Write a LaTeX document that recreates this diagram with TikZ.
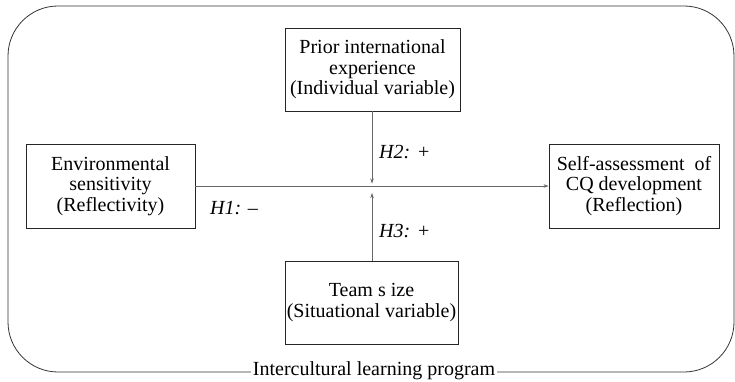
\documentclass[tikz,border=0pt]{standalone}
\usepackage{fontspec}
\setmainfont{Liberation Serif}
\usetikzlibrary{arrows.meta}
\begin{document}
\begin{tikzpicture}[x=1pt,y=-1pt,
  box/.style={draw=black!85,line width=0.9pt,minimum width=#1,align=center,inner sep=0pt,
    font=\fontsize{20}{20.6}\selectfont},
  box/.default=170pt,
  conn/.style={draw=black!60,line width=0.7pt,-{Stealth[length=5pt,width=3.5pt]}},
  hyp/.style={font=\fontsize{20}{20.6}\selectfont\itshape,inner sep=0pt},
  frame/.style={draw=black!80,line width=0.8pt,rounded corners=50pt}]
\useasboundingbox (0,0) rectangle (735,382);
\draw[frame] (8,6) rectangle (734,372);
\node[fill=white,inner sep=1.5pt,font=\fontsize{20}{20.6}\selectfont] (prog) at (374,371) {Intercultural learning program};
\node[box=175pt,minimum height=83pt] (prior) at (372.5,69.5) {Prior international\\experience\\(Individual variable)};
\node[box=169pt,minimum height=84pt] (env) at (110.5,186) {Environmental\\sensitivity\\(Reflectivity)};
\node[box=170pt,minimum height=84pt] (self) at (634,186) {Self-assessment~ of\\CQ development\\(Reflection)};
\node[box=173pt,minimum height=83pt] (team) at (371.5,302.5) {Team s ize\\(Situational variable)};
\coordinate (mtop) at (372,183.5);
\coordinate (mbot) at (372,193);
\draw[conn] (env.east |- 0,186) -- (self.west |- 0,186);
\draw[conn] (prior.south -| mtop) -- (mtop);
\draw[conn] (team.north -| mbot) -- (mbot);
\node[hyp,anchor=west] (h2) at (379,152) {H2: +};
\node[hyp,anchor=west] (h1) at (210,208) {H1: –};
\node[hyp,anchor=west] (h3) at (379,231) {H3: +};
\end{tikzpicture}
\end{document}
